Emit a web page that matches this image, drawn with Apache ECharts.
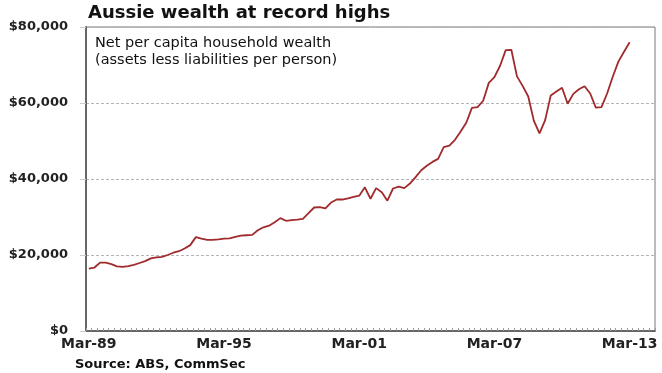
<!DOCTYPE html>
<html><head><meta charset="utf-8">
<script src="https://cdn.jsdelivr.net/npm/echarts@6/dist/echarts.min.js"></script>
<style>html,body{margin:0;padding:0;background:#fff}#c{width:662px;height:373px}</style>
</head><body><div id="c"></div>
<script>
// Quarterly categories Mar-89 .. Mar-14
const months = ['Mar','Jun','Sep','Dec'];
const categories = [];
for (let y = 1989; y <= 2014; y++) {
  for (const m of months) {
    if (y === 2014 && m !== 'Mar') continue;
    categories.push(m + '-' + String(y % 100).padStart(2, '0'));
  }
}
const xTickLabels = ['Mar-89','Mar-95','Mar-01','Mar-07','Mar-13'];
const wealth = [
  16400,16700,18000,18000,17600,17000,16900,17100,17400,17900,
  18400,19100,19400,19500,20000,20600,21000,21700,22600,24700,
  24300,24000,24000,24100,24300,24400,24800,25100,25200,25300,
  26500,27300,27700,28600,29700,29000,29200,29300,29500,31000,
  32500,32600,32300,33800,34600,34600,34900,35300,35600,37800,
  34800,37600,36500,34300,37500,38000,37600,38800,40500,42300,
  43500,44500,45300,48400,48800,50300,52500,54800,58700,58900,
  60600,65300,66800,69800,73900,74000,67000,64500,61700,55300,
  52000,55500,62000,63000,64000,59800,62400,63600,64400,62500,
  58800,58900,62500,66900,70900,73500,76000
];
const FONT = 'DejaVu Sans';
const chart = echarts.init(document.getElementById('c'));
chart.setOption({
  animation: false,
  title: [
    { text: 'Aussie wealth at record highs', left: 88, top: 4, padding: 0,
      textStyle: { fontFamily: FONT, fontWeight: 'bold', fontSize: 18, color: '#111' } },
    { text: 'Net per capita household wealth\n(assets less liabilities per person)', left: 95, top: 35, padding: 0,
      textStyle: { fontFamily: FONT, fontWeight: 'normal', fontSize: 14.5, lineHeight: 17, color: '#111' } },
    { text: 'Source: ABS, CommSec', left: 75, top: 358, padding: 0,
      textStyle: { fontFamily: FONT, fontWeight: 'bold', fontSize: 13, color: '#111' } }
  ],
  grid: { left: 86, right: 7, top: 27, bottom: 42, show: true, borderColor: '#777', borderWidth: 1 },
  xAxis: {
    type: 'category', data: categories, boundaryGap: true,
    axisLine: { lineStyle: { color: '#666', width: 2 } },
    axisTick: { show: true, inside: true, length: 3, interval: 0, lineStyle: { color: '#999' } },
    axisLabel: {
      interval: (i, v) => xTickLabels.includes(v), margin: 6,
      fontFamily: FONT, fontWeight: 'bold', fontSize: 14, color: '#222'
    },
    splitLine: { show: false }
  },
  yAxis: {
    type: 'value', min: 0, max: 80000, interval: 20000,
    axisLine: { show: true, lineStyle: { color: '#666', width: 2 } },
    axisTick: { show: true, length: 6, lineStyle: { color: '#ccc' } },
    axisLabel: {
      formatter: v => '$' + v.toLocaleString('en-US'), margin: 18,
      fontFamily: FONT, fontWeight: 'bold', fontSize: 13, color: '#222'
    },
    splitLine: { show: true, lineStyle: { color: '#b5b5b5', type: [3, 2], width: 1 } }
  },
  series: [{
    type: 'line', data: wealth, showSymbol: false, smooth: false,
    lineStyle: { color: '#a02a2c', width: 1.8 }
  }]
});
</script></body></html>
